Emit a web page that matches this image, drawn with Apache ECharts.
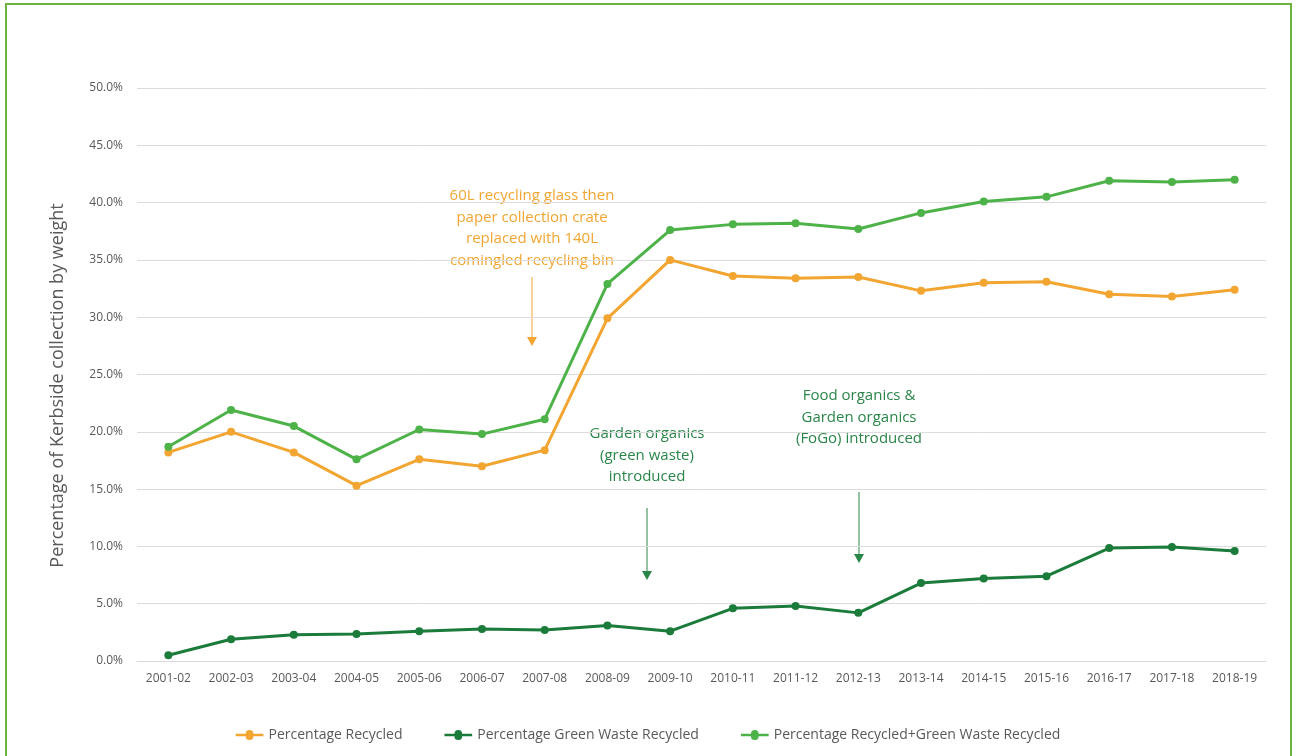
<!DOCTYPE html>
<html>
<head>
<meta charset="utf-8">
<title>Kerbside recycling</title>
<script src="https://cdn.jsdelivr.net/npm/echarts@6/dist/echarts.min.js"></script>
<style>
  html, body { margin: 0; padding: 0; background: #ffffff; }
  #chart { width: 1296px; height: 756px; }
</style>
</head>
<body>
<div id="chart"></div>
<script>
// Financial years
const years = ['2001-02','2002-03','2003-04','2004-05','2005-06','2006-07','2007-08','2008-09','2009-10',
  '2010-11','2011-12','2012-13','2013-14','2014-15','2015-16','2016-17','2017-18','2018-19'];

// Share of kerbside collection by weight (%)
const recycled = [18.2, 20.0, 18.2, 15.3, 17.6, 17.0, 18.4, 29.9, 35.0,
  33.6, 33.4, 33.5, 32.3, 33.0, 33.1, 32.0, 31.8, 32.4];
const greenWaste = [0.5, 1.9, 2.3, 2.35, 2.6, 2.8, 2.7, 3.1, 2.6,
  4.6, 4.8, 4.2, 6.8, 7.2, 7.4, 9.85, 9.95, 9.6];
const combined = [18.7, 21.9, 20.5, 17.6, 20.2, 19.8, 21.1, 32.9, 37.6,
  38.1, 38.2, 37.7, 39.1, 40.1, 40.5, 41.9, 41.8, 42.0];

const seriesNames = ['Percentage Recycled', 'Percentage Green Waste Recycled',
  'Percentage Recycled+Green Waste Recycled'];

const ORANGE = '#f2a531';
const DARK_GREEN = '#1b7b3b';
const LIGHT_GREEN = '#4db349';
const NOTE_GREEN = '#2a8549';
const FONT = '"Open Sans", "Noto Sans", sans-serif';

// Legend glyph: a short thick line with a dot in the middle
const LINE_DOT_ICON = 'path://M0,3.5 L13,3.5 A5,5 0 0 1 23,3.5 L36,3.5 L36,6.5 L23,6.5 A5,5 0 0 1 13,6.5 L0,6.5 Z';

const chart = echarts.init(document.getElementById('chart'), null, { renderer: 'canvas' });

function lineSeries(name, data, color) {
  return {
    name: name,
    type: 'line',
    data: data,
    symbol: 'circle',
    symbolSize: 8,
    lineStyle: { width: 3, color: color },
    itemStyle: { color: color },
    emphasis: { disabled: true },
    animation: false
  };
}

// Annotation text blocks with their arrows
function note(lines, cx, top, color, arrowTop, arrowBottom) {
  const els = [];
  lines.forEach((t, i) => {
    els.push({
      type: 'text',
      x: cx, y: top + i * 21.5,
      style: { text: t, fill: color, font: '15px ' + FONT, align: 'center', verticalAlign: 'middle' }
    });
  });
  els.push({
    type: 'line',
    shape: { x1: cx, y1: arrowTop, x2: cx, y2: arrowBottom - 6 },
    style: { stroke: color, lineWidth: 1 }
  });
  els.push({
    type: 'polygon',
    shape: { points: [[cx - 5, arrowBottom - 9], [cx + 5, arrowBottom - 9], [cx, arrowBottom]] },
    style: { fill: color }
  });
  return els;
}

const option = {
  backgroundColor: '#ffffff',
  textStyle: { fontFamily: FONT },
  grid: { left: 137, right: 30, top: 88, bottom: 95, containLabel: false },
  legend: {
    bottom: 9,
    left: 'center',
    itemGap: 42,
    itemWidth: 36,
    itemHeight: 10,
    icon: LINE_DOT_ICON,
    textStyle: { color: '#595959', fontSize: 14, fontFamily: FONT, padding: [0, 0, 0, -4] },
    data: seriesNames
  },
  xAxis: {
    type: 'category',
    data: years,
    boundaryGap: true,
    axisLine: { lineStyle: { color: '#d9d9d9', width: 1 } },
    axisTick: { show: false },
    axisLabel: { color: '#595959', fontSize: 12, margin: 12, interval: 0, fontFamily: FONT }
  },
  yAxis: {
    type: 'value',
    min: 0,
    max: 50,
    interval: 5,
    name: 'Percentage of Kerbside collection by weight',
    nameLocation: 'middle',
    nameGap: 70,
    nameTextStyle: { color: '#595959', fontSize: 18, fontFamily: FONT, padding: [0, 22, 0, 0] },
    axisLine: { show: false },
    axisTick: { show: false },
    axisLabel: { color: '#595959', fontSize: 12, margin: 14, formatter: v => v.toFixed(1) + '%', fontFamily: FONT },
    splitLine: { lineStyle: { color: '#dcdcdc', width: 1 } }
  },
  series: [
    lineSeries(seriesNames[0], recycled, ORANGE),
    lineSeries(seriesNames[1], greenWaste, DARK_GREEN),
    lineSeries(seriesNames[2], combined, LIGHT_GREEN)
  ],
  graphic: [
    {
      type: 'rect',
      shape: { x: 6, y: 4, width: 1285, height: 760 },
      style: { fill: null, stroke: '#6cb33f', lineWidth: 2 },
      silent: true
    },
    ...note(['60L recycling glass then', 'paper collection crate', 'replaced with 140L', 'comingled recycling bin'],
      532, 196, ORANGE, 277, 346),
    ...note(['Garden organics', '(green waste)', 'introduced'], 647, 434, NOTE_GREEN, 508, 580),
    ...note(['Food organics &', 'Garden organics', '(FoGo) introduced'], 859, 396, NOTE_GREEN, 492, 563)
  ],
  animation: false
};

chart.setOption(option);
</script>
</body>
</html>
